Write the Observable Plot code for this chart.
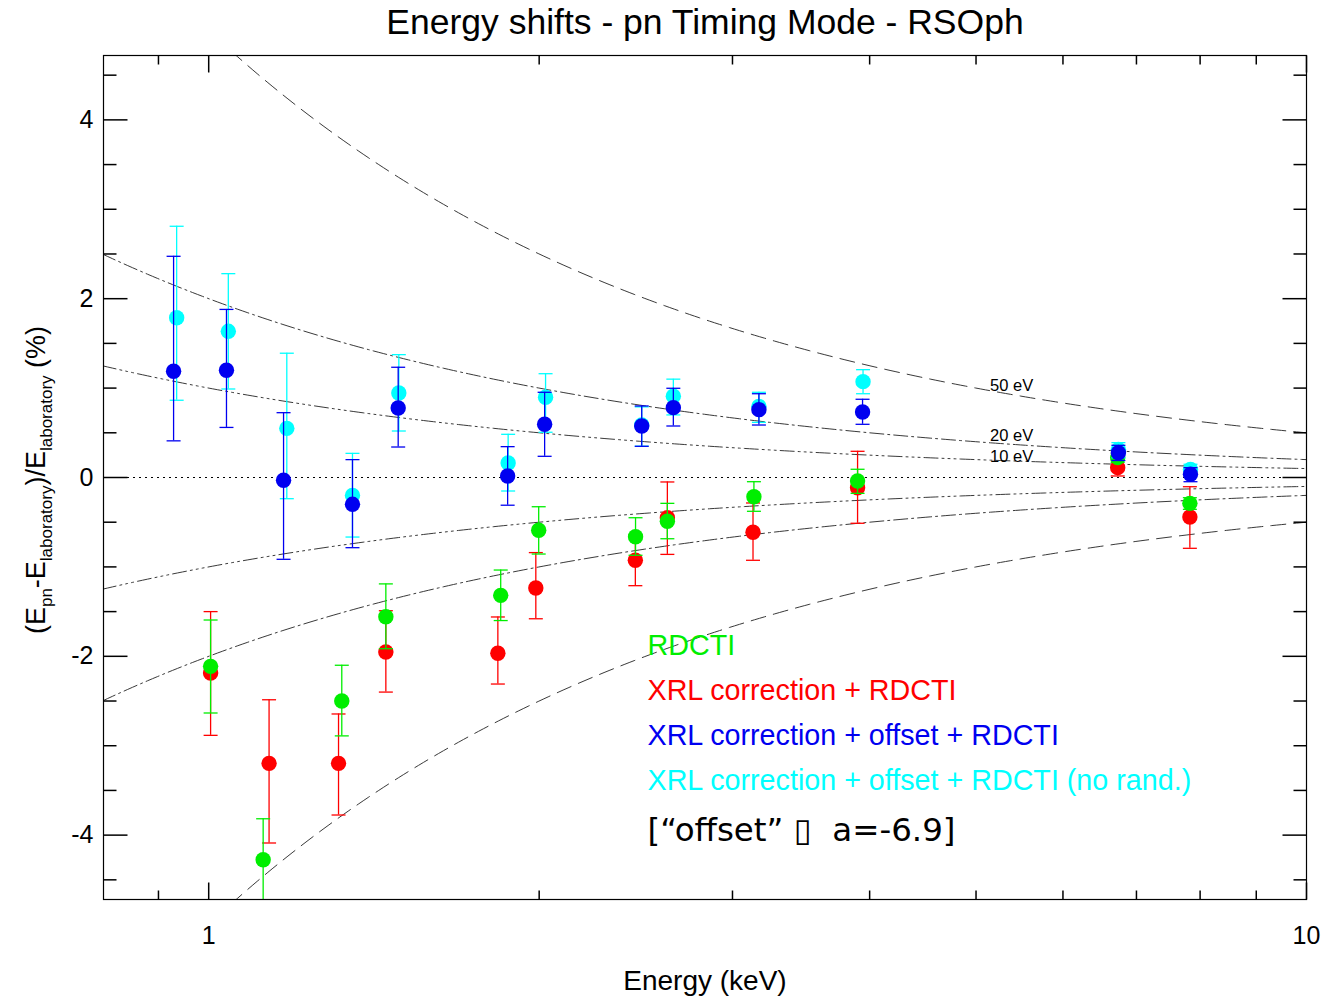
<!DOCTYPE html>
<html>
<head>
<meta charset="utf-8">
<script src="https://cdn.jsdelivr.net/npm/d3@7"></script>
<script src="https://cdn.jsdelivr.net/npm/@observablehq/plot@0.6"></script>
<style>
  body { margin: 0; background: #ffffff; }
  #chart { width: 1325px; height: 997px; }
</style>
</head>
<body>
<div id="chart"></div>
<script>
// ---------- Data ----------
// XRL correction + RDCTI (red)
const redE  = [1.004, 1.135, 1.313, 1.450, 1.834, 1.986, 2.447, 2.617, 3.132, 3.900, 6.73, 7.83];
const redY  = [-2.187, -3.197, -3.197, -1.952, -1.966, -1.236, -0.926, -0.450, -0.613, -0.114, 0.110, -0.442];
const redLo = [-2.884, -4.088, -3.775, -2.400, -2.310, -1.580, -1.210, -0.860, -0.926, -0.512, 0.017, -0.792];
const redHi = [-1.500, -2.486, -2.645, -1.490, -1.560, -0.840, -0.643, -0.050, -0.285, 0.293, 0.200, -0.103];

// RDCTI (green)
const greenE  = [1.004, 1.121, 1.322, 1.450, 1.845, 1.998, 2.448, 2.617, 3.138, 3.900, 6.73, 7.83];
const greenY  = [-2.112, -4.275, -2.500, -1.557, -1.318, -0.590, -0.662, -0.490, -0.215, -0.039, 0.222, -0.289];
const greenLo = [-2.634, -4.730, -2.890, -1.915, -1.600, -0.856, -0.870, -0.685, -0.378, -0.177, 0.170, -0.356];
const greenHi = [-1.594, -3.817, -2.100, -1.190, -1.035, -0.327, -0.450, -0.289, -0.047, 0.092, 0.270, -0.226];

// XRL correction + offset + RDCTI (no rand.) (cyan)
const cyanE  = [0.935, 1.042, 1.178, 1.352, 1.490, 1.874, 2.027, 2.480, 2.650, 3.171, 3.945, 6.74, 7.84];
const cyanY  = [1.787, 1.635, 0.550, -0.200, 0.945, 0.162, 0.897, 0.587, 0.910, 0.796, 1.072, 0.315, 0.090];
const cyanLo = [0.864, 0.990, -0.237, -0.666, 0.520, -0.151, 0.506, 0.350, 0.700, 0.617, 0.937, 0.220, 0.030];
const cyanHi = [2.810, 2.280, 1.390, 0.270, 1.374, 0.483, 1.161, 0.790, 1.100, 0.953, 1.206, 0.390, 0.148];

// XRL correction + offset + RDCTI (blue)
const blueE  = [0.929, 1.038, 1.170, 1.352, 1.488, 1.872, 2.023, 2.480, 2.650, 3.171, 3.941, 6.74, 7.84];
const blueY  = [1.188, 1.200, -0.030, -0.300, 0.777, 0.017, 0.595, 0.576, 0.781, 0.759, 0.733, 0.277, 0.036];
const blueLo = [0.410, 0.560, -0.915, -0.785, 0.341, -0.310, 0.237, 0.349, 0.576, 0.587, 0.595, 0.190, -0.047];
const blueHi = [2.474, 1.880, 0.725, 0.200, 1.233, 0.345, 0.953, 0.800, 0.998, 0.937, 0.875, 0.360, 0.110];

// Reference thresholds (eV)
const thresholds = [10, 20, 50];

// Tick values
const xMajor = [1, 10];
const xMinor = [0.9, 2, 3, 4, 5, 6, 7, 8, 9];
const yMajor = [-4, -2, 0, 2, 4];
const yMinor = [-4.5, -3.5, -3, -2.5, -1.5, -1, -0.5, 0.5, 1, 1.5, 2.5, 3, 3.5, 4.5];

// Legend entries
const legendLabels = ["RDCTI", "XRL correction + RDCTI", "XRL correction + offset + RDCTI", "XRL correction + offset + RDCTI (no rand.)"];
const noteText = "[\u201Coffset\u201D \u25AF  a=-6.9]";
const titleText = "Energy shifts - pn Timing Mode - RSOph";

// ---------- Styles ----------
const colors = {red: "#ff0000", green: "#00ee00", blue: "#0000f0", cyan: "#00ffff"};
const legendColors = [colors.green, colors.red, colors.blue, colors.cyan];
const dashFor = {50: "15,8", 20: "14,4,2,4", 10: "14,4,2,4,2,4,2,4"};
const labelShift = {50: -5, 20: -7, 10: -3};
const FONT = "'Liberation Sans', Arial, Helvetica, sans-serif";

function build(E, Y, Lo, Hi) {
  return E.map((e, i) => ({E: e, y: Y[i], lo: Lo[i], hi: Hi[i]}));
}
const series = [
  {data: build(redE, redY, redLo, redHi), color: colors.red},
  {data: build(greenE, greenY, greenLo, greenHi), color: colors.green},
  {data: build(cyanE, cyanY, cyanLo, cyanHi), color: colors.cyan},
  {data: build(blueE, blueY, blueLo, blueHi), color: colors.blue}
];

// reference curves: +/- eV / E  in percent
const samples = d3.range(0, 241).map(i => 0.8 * Math.pow(12.5, i / 240));
const curves = [];
for (const ev of thresholds) {
  for (const sgn of [1, -1]) {
    curves.push({ev, pts: samples.map(E => ({E, y: sgn * ev / (E * 1000) * 100}))});
  }
}

// custom line-segment symbols
const seg = (x1, y1, x2, y2) => ({draw(ctx) { ctx.moveTo(x1, y1); ctx.lineTo(x2, y2); }});
const capSym = seg(-7, 0, 7, 0);

const marks = [];
// curves
for (const c of curves) {
  marks.push(Plot.line(c.pts, {x: "E", y: "y", stroke: "#222", strokeWidth: 0.9, strokeDasharray: dashFor[c.ev], clip: true}));
}
// zero line
marks.push(Plot.ruleY([0], {stroke: "#000", strokeWidth: 1, strokeDasharray: "2,4"}));
// curve labels
const labelE = 5.15;
for (const ev of thresholds) {
  marks.push(Plot.text([{ev, E: labelE, y: ev / (labelE * 1000) * 100}], {
    x: "E", y: "y", text: d => `${d.ev} eV`, textAnchor: "start", lineAnchor: "middle", dy: labelShift[ev],
    fontSize: 16.5, fontFamily: FONT, fill: "#000"
  }));
}
// series
for (const s of series) {
  marks.push(Plot.ruleX(s.data, {x: "E", y1: "lo", y2: "hi", stroke: s.color, strokeWidth: 1.3, clip: true}));
  marks.push(Plot.dot(s.data, {x: "E", y: "lo", symbol: capSym, stroke: s.color, strokeWidth: 1.3, fill: "none", clip: true}));
  marks.push(Plot.dot(s.data, {x: "E", y: "hi", symbol: capSym, stroke: s.color, strokeWidth: 1.3, fill: "none", clip: true}));
  marks.push(Plot.dot(s.data, {x: "E", y: "y", r: 7.7, fill: s.color, stroke: "none"}));
}
// frame
marks.push(Plot.frame({stroke: "#000", strokeWidth: 1.2}));
// ticks (inward)
marks.push(Plot.dot(yMajor, {y: d => d, frameAnchor: "left", symbol: seg(0, 0, 24, 0), stroke: "#000", fill: "none"}));
marks.push(Plot.dot(yMinor, {y: d => d, frameAnchor: "left", symbol: seg(0, 0, 13, 0), stroke: "#000", fill: "none"}));
marks.push(Plot.dot(yMajor, {y: d => d, frameAnchor: "right", symbol: seg(0, 0, -24, 0), stroke: "#000", fill: "none"}));
marks.push(Plot.dot(yMinor, {y: d => d, frameAnchor: "right", symbol: seg(0, 0, -13, 0), stroke: "#000", fill: "none"}));
marks.push(Plot.dot(xMajor, {x: d => d, frameAnchor: "bottom", symbol: seg(0, 0, 0, -17), stroke: "#000", fill: "none"}));
marks.push(Plot.dot(xMinor, {x: d => d, frameAnchor: "bottom", symbol: seg(0, 0, 0, -9), stroke: "#000", fill: "none"}));
marks.push(Plot.dot(xMajor, {x: d => d, frameAnchor: "top", symbol: seg(0, 0, 0, 17), stroke: "#000", fill: "none"}));
marks.push(Plot.dot(xMinor, {x: d => d, frameAnchor: "top", symbol: seg(0, 0, 0, 9), stroke: "#000", fill: "none"}));
// tick labels
marks.push(Plot.axisX({ticks: xMajor, tickSize: 0, tickPadding: 27, tickFormat: d => String(d), fontSize: 25, label: null}));
marks.push(Plot.axisY({ticks: yMajor, tickSize: 0, tickPadding: 10, tickFormat: d => String(d), fontSize: 25, label: null}));
// x label
marks.push(Plot.text([{t: "Energy (keV)"}], {frameAnchor: "bottom", dy: 82, text: "t", fontSize: 28, fontFamily: FONT, fill: "#000", lineAnchor: "middle"}));
// title
marks.push(Plot.text([{t: titleText}], {frameAnchor: "top", dy: -33, text: "t", fontSize: 35.5, fontFamily: FONT, fill: "#000", lineAnchor: "middle"}));
// legend
legendLabels.forEach((lab, i) => {
  marks.push(Plot.text([{t: lab}], {frameAnchor: "top-left", dx: 544, dy: 590 + i * 45, text: "t", fill: legendColors[i],
    fontSize: 28.7, fontFamily: FONT, textAnchor: "start", lineAnchor: "middle"}));
});
marks.push(Plot.text([{t: noteText}], {frameAnchor: "top-left", dx: 544, dy: 775, text: "t", fill: "#000",
  fontSize: 32.5, fontFamily: "'DejaVu Sans', sans-serif", textAnchor: "start", lineAnchor: "middle"}));

const plot = Plot.plot({
  width: 1325,
  height: 997,
  marginLeft: 103,
  marginRight: 19,
  marginTop: 55,
  marginBottom: 98,
  style: {fontFamily: FONT, fontSize: "24px", background: "#fff", color: "#000"},
  x: {type: "log", domain: [0.802, 10], label: null},
  y: {domain: [-4.72, 4.72], label: null},
  marks
});

// y-axis label with subscripts
const svg = d3.select(plot);
const yl = svg.append("text")
  .attr("transform", "translate(45,480) rotate(-90)")
  .attr("text-anchor", "middle")
  .attr("font-family", FONT)
  .attr("font-size", 27)
  .attr("fill", "#000");
const parts = [["(E", false], ["pn", true], ["-E", false], ["laboratory", true], [")/E", false], ["laboratory", true], [" (%)", false]];
let sub = false;
for (const [txt, isSub] of parts) {
  const ts = yl.append("tspan").text(txt);
  if (isSub) { ts.attr("font-size", 17).attr("dy", sub ? 0 : 7); sub = true; }
  else { ts.attr("dy", sub ? -7 : 0); sub = false; }
}

document.getElementById("chart").appendChild(plot);
</script>
</body>
</html>
